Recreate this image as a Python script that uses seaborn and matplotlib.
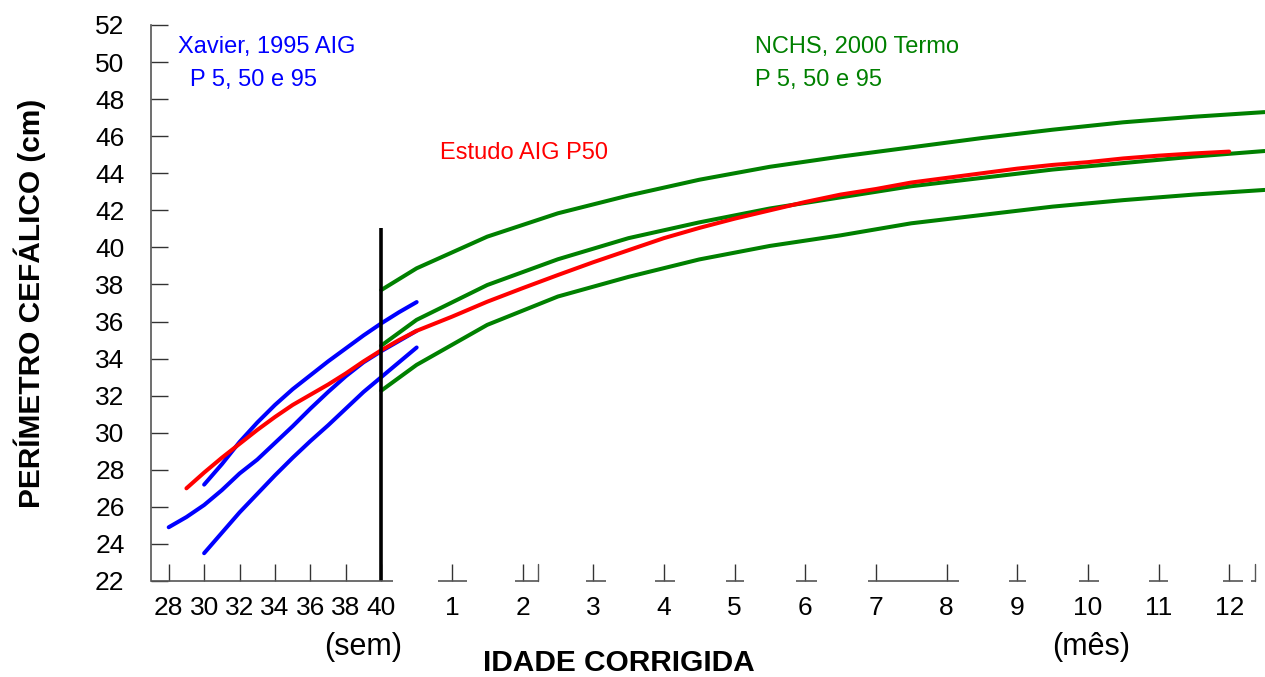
import numpy as np
import pandas as pd
import seaborn as sns
import matplotlib.pyplot as plt

# --- data ---
# Xavier 1995 AIG, gestational weeks
xavier_weeks_p95 = [30, 31, 32, 33, 34, 35, 36, 37, 38, 39, 40, 41, 42]
xavier_p95 = [27.2, 28.3, 29.5, 30.55, 31.5, 32.35, 33.1, 33.85, 34.55, 35.25, 35.9, 36.5, 37.05]
xavier_weeks_p50 = [28, 29, 30, 31, 32, 33, 34, 35, 36, 37, 38, 39, 40, 41, 42]
xavier_p50 = [24.9, 25.45, 26.1, 26.9, 27.8, 28.55, 29.45, 30.35, 31.3, 32.2, 33.05, 33.8, 34.4, 34.95, 35.5]
xavier_weeks_p5 = [30, 31, 32, 33, 34, 35, 36, 37, 38, 39, 40, 41, 42]
xavier_p5 = [23.5, 24.6, 25.7, 26.7, 27.7, 28.65, 29.55, 30.4, 31.3, 32.2, 33.0, 33.8, 34.6]

# NCHS 2000 term, months
nchs_months = [0, 0.5, 1.5, 2.5, 3.5, 4.5, 5.5, 6.5, 7.5, 8.5, 9.5, 10.5, 11.5, 12.5]
nchs_p95 = [37.7, 38.87, 40.58, 41.84, 42.8, 43.65, 44.35, 44.9, 45.4, 45.9, 46.35, 46.75, 47.05, 47.3]
nchs_p50 = [34.7, 36.09, 37.97, 39.36, 40.5, 41.35, 42.1, 42.7, 43.3, 43.75, 44.2, 44.55, 44.9, 45.2]
nchs_p5 = [32.27, 33.66, 35.82, 37.35, 38.41, 39.35, 40.08, 40.65, 41.3, 41.75, 42.2, 42.55, 42.85, 43.1]

# Estudo AIG P50: weeks part then months part
estudo_weeks = [29, 30, 31, 32, 33, 34, 35, 36, 37, 38, 39, 40, 41, 42]
estudo_weeks_val = [27.0, 27.85, 28.65, 29.4, 30.15, 30.85, 31.5, 32.05, 32.6, 33.2, 33.85, 34.45, 35.0, 35.5]
estudo_months = [1, 1.5, 2, 2.5, 3, 3.5, 4, 4.5, 5, 5.5, 6, 6.5, 7, 7.5, 8, 8.5, 9, 9.5, 10, 10.5, 11, 11.5, 12]
estudo_months_val = [36.26, 37.07, 37.8, 38.51, 39.2, 39.85, 40.5, 41.05, 41.55, 42.0, 42.45, 42.85, 43.15, 43.5,
                     43.75, 44.0, 44.25, 44.45, 44.6, 44.8, 44.95, 45.07, 45.17]

week_ticks = [28, 30, 32, 34, 36, 38, 40]
month_ticks = [1, 2, 3, 4, 5, 6, 7, 8, 9, 10, 11, 12]
y_ticks = list(range(22, 53, 2))

WEEKS_PER_MONTH = 3.99


def m2x(months):
    return 40 + np.asarray(months, dtype=float) * WEEKS_PER_MONTH


sns.set_style('white')
plt.rcParams['font.family'] = ['Liberation Sans', 'DejaVu Sans']
plt.rcParams['text.color'] = 'black'

fig = plt.figure(figsize=(12.65, 6.77), dpi=100)
ax = fig.add_axes([151 / 1265, 96 / 677, 1114 / 1265, 556 / 677])

BLUE, RED, GREEN = '#0000ff', '#ff0000', '#008000'
LW = 2.9

series = [
    (xavier_weeks_p95, xavier_p95, BLUE),
    (xavier_weeks_p50, xavier_p50, BLUE),
    (xavier_weeks_p5, xavier_p5, BLUE),
    (m2x(nchs_months), nchs_p95, GREEN),
    (m2x(nchs_months), nchs_p50, GREEN),
    (m2x(nchs_months), nchs_p5, GREEN),
    (np.concatenate([estudo_weeks, m2x(estudo_months)]), estudo_weeks_val + estudo_months_val, RED),
]
for xs, ys, col in series:
    sns.lineplot(x=np.asarray(xs, dtype=float), y=ys, color=col, linewidth=LW,
                 solid_capstyle='round', ax=ax)

# 40-week divider
ax.plot([40, 40], [22, 41.05], color='black', linewidth=2.6, solid_capstyle='butt')

ax.set_xlim(27, 89.9)
ax.set_ylim(22, 52)

# axes styling
for s in ['top', 'right', 'bottom']:
    ax.spines[s].set_visible(False)
ax.spines['left'].set_color('#555555')
ax.spines['left'].set_linewidth(1.2)

ax.set_yticks(y_ticks)
ax.set_yticklabels([str(v) for v in y_ticks])
xt = list(week_ticks) + list(m2x(month_ticks))
ax.set_xticks(xt)
ax.set_xticklabels([str(v) for v in week_ticks] + [str(m) for m in month_ticks])
ax.tick_params(axis='both', direction='in', length=12, width=1, color='#333333',
               labelsize=19, labelcolor='black', bottom=True, left=True)
ax.tick_params(axis='y', pad=19)
ax.tick_params(axis='x', pad=11)

# broken bottom axis line
base_kw = dict(color='#555555', linewidth=1.2, clip_on=False, solid_capstyle='butt')
ax.plot([27, 40.66], [22, 22], **base_kw)
pieces = [(0.8, 1.21), (1.89, 2.22), (2.9, 3.18), (3.88, 4.16), (4.88, 5.14), (5.87, 6.16),
          (6.89, 8.17), (8.89, 9.13), (9.88, 10.16), (10.87, 11.13), (11.91, 12.2), (12.31, 12.36)]
for lo, hi in pieces:
    ax.plot(m2x([lo, hi]), [22, 22], **base_kw)
for extra in [2.22, 12.36]:
    ax.plot(m2x([extra, extra]), [22, 22.9], color='#555555', linewidth=1, clip_on=False)

# text
ax.text(38.95, 18.45, '(sem)', fontsize=22, ha='center', va='center', clip_on=False)
ax.text(m2x(10.05), 18.45, '(mês)', fontsize=22, ha='center', va='center', clip_on=False)
fig.text(619 / 1265, 1 - 663 / 677, 'IDADE CORRIGIDA', fontsize=21.5, fontweight='bold',
         ha='center', va='center')
fig.text(30 / 1265, 1 - 303 / 677, 'PERÍMETRO CEFÁLICO (cm)', fontsize=21.5, fontweight='bold',
         ha='center', va='center', rotation=90)

ax.text(28.55, 50.82, 'Xavier, 1995 AIG', color=BLUE, fontsize=17, va='center')
ax.text(29.2, 49.05, 'P 5, 50 e 95', color=BLUE, fontsize=17, va='center')
ax.text(61.1, 50.82, 'NCHS, 2000 Termo', color=GREEN, fontsize=17, va='center')
ax.text(61.1, 49.05, 'P 5, 50 e 95', color=GREEN, fontsize=17, va='center')
ax.text(43.3, 45.1, 'Estudo AIG P50', color=RED, fontsize=17, va='center')

fig.savefig('out.png', dpi=100)
